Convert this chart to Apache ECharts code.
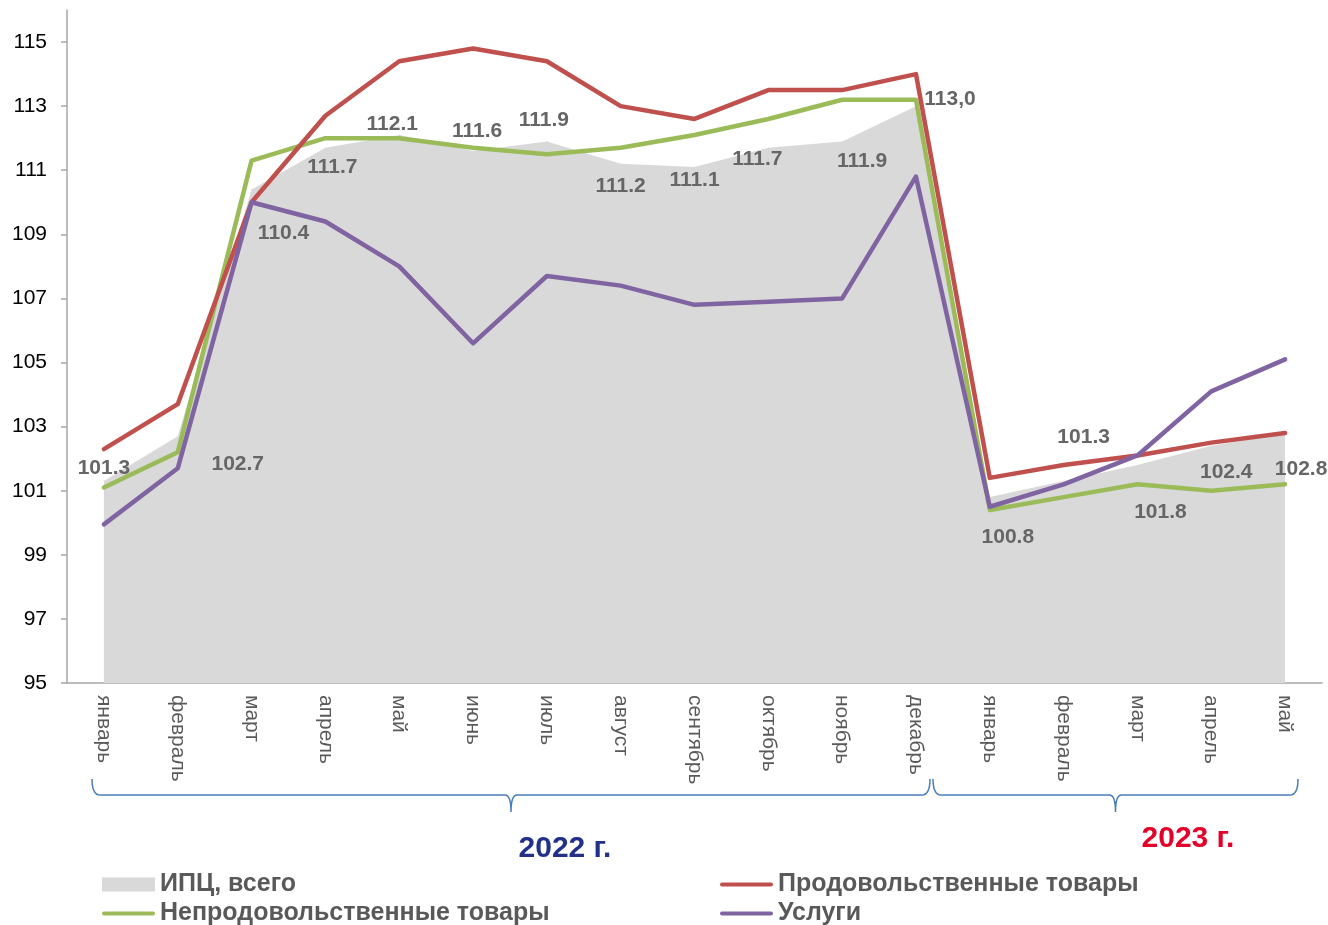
<!DOCTYPE html>
<html>
<head>
<meta charset="utf-8">
<script src="https://cdn.jsdelivr.net/npm/echarts@6/dist/echarts.min.js"></script>
<style>
  html, body { margin: 0; padding: 0; background: #fff; }
  #main { width: 1328px; height: 925px; }
</style>
</head>
<body>
<div id="main"></div>
<script>
// месяцы
var months = ['январь', 'февраль', 'март', 'апрель', 'май', 'июнь', 'июль', 'август',
  'сентябрь', 'октябрь', 'ноябрь', 'декабрь', 'январь', 'февраль', 'март', 'апрель', 'май'];

// ИПЦ, всего
var cpiTotal = [101.3, 102.7, 110.4, 111.7, 112.1, 111.6, 111.9, 111.2, 111.1, 111.7, 111.9, 113.0,
  100.8, 101.3, 101.8, 102.4, 102.8];
var cpiLabels = ['101.3', '102.7', '110.4', '111.7', '112.1', '111.6', '111.9', '111.2', '111.1',
  '111.7', '111.9', '113,0', '100.8', '101.3', '101.8', '102.4', '102.8'];
// Продовольственные товары
var food = [102.3, 103.7, 110.0, 112.7, 114.4, 114.8, 114.4, 113.0, 112.6, 113.5, 113.5, 114.0,
  101.4, 101.8, 102.1, 102.5, 102.8];
// Непродовольственные товары
var nonFood = [101.1, 102.2, 111.3, 112.0, 112.0, 111.7, 111.5, 111.7, 112.1, 112.6, 113.2, 113.2,
  100.4, 100.8, 101.2, 101.0, 101.2];
// Услуги
var services = [99.95, 101.7, 110.0, 109.4, 108.0, 105.6, 107.7, 107.4, 106.8, 106.9, 107.0, 110.8,
  100.5, 101.2, 102.1, 104.1, 105.1];

var yTicks = [95, 97, 99, 101, 103, 105, 107, 109, 111, 113, 115];

var chart = echarts.init(document.getElementById('main'));

// сдвиг подписей относительно точки
var nudge = [[0, -13], [60, 28], [32, 44], [7, 19], [-7, -11], [4, -20], [-3, -21], [0, 22], [0, 13],
  [-11, 11], [20, 20], [34, -7], [18, 40], [20, -44], [23, 47], [15, 26], [16, 36]];

var font = "'Liberation Sans', Arial, sans-serif";
// иконка легенды: толстая линия со скруглёнными концами
var lineIcon = 'path://M2,0 L51,0 A2,2 0 0 1 51,4 L2,4 A2,2 0 0 1 2,0 Z';

// фигурная скобка как ломаная
function brace(x1, x2, top, line, tip) {
  var mid = (x1 + x2) / 2, r = 8, pts = [];
  function quad(p0, c, p1) {
    for (var t = 0; t <= 1.0001; t += 0.125) {
      var a = (1 - t) * (1 - t), b = 2 * (1 - t) * t, d = t * t;
      pts.push([a * p0[0] + b * c[0] + d * p1[0], a * p0[1] + b * c[1] + d * p1[1]]);
    }
  }
  quad([x1, top], [x1, line], [x1 + r, line]);
  quad([mid - 6, line], [mid, line], [mid, tip]);
  quad([mid, tip], [mid, line], [mid + 6, line]);
  quad([x2 - r, line], [x2, line], [x2, top]);
  return pts;
}

var legendText = { fontFamily: font, fontSize: 25, fontWeight: 'bold', color: '#595959' };

var option = {
  animation: false,
  grid: { left: 67, right: 6, top: 10, bottom: 242 },
  legend: [
    {
      orient: 'vertical', left: 102, top: 872, height: 60, padding: 0,
      itemWidth: 53, itemHeight: 14, itemGap: 4,
      textStyle: legendText,
      data: [{ name: 'ИПЦ, всего', icon: 'rect' }, { name: 'Непродовольственные товары', icon: lineIcon }]
    },
    {
      orient: 'vertical', left: 720, top: 872, height: 60, padding: 0,
      itemWidth: 53, itemHeight: 14, itemGap: 4,
      textStyle: legendText,
      data: [{ name: 'Продовольственные товары', icon: lineIcon }, { name: 'Услуги', icon: lineIcon }]
    }
  ],
  xAxis: {
    type: 'category',
    data: months,
    boundaryGap: true,
    axisLine: { lineStyle: { color: '#a6a6a6', width: 1.5 } },
    axisTick: { length: 6, lineStyle: { color: '#a6a6a6', width: 1.5 } },
    axisLabel: { interval: 0, rotate: -90, margin: 12, fontFamily: font, fontSize: 21, color: '#595959' }
  },
  yAxis: {
    type: 'value',
    min: 95,
    max: 116,
    splitLine: { show: false },
    axisLine: { show: true, lineStyle: { color: '#a6a6a6', width: 1.5 } },
    axisTick: { show: true, length: 6, customValues: yTicks, lineStyle: { color: '#a6a6a6', width: 1.5 } },
    axisLabel: { customValues: yTicks, margin: 20, fontFamily: font, fontSize: 21, color: '#000' }
  },
  series: [
    {
      name: 'ИПЦ, всего',
      type: 'line',
      data: cpiTotal.map(function (v, i) {
        return { value: v, label: { offset: nudge[i] } };
      }),
      symbol: 'circle',
      symbolSize: 1,
      showSymbol: true,
      itemStyle: { color: '#d9d9d9' },
      lineStyle: { width: 0 },
      areaStyle: { color: '#d9d9d9', opacity: 1, origin: 'start' },
      label: {
        show: true,
        position: 'inside',
        formatter: function (p) { return cpiLabels[p.dataIndex]; },
        fontFamily: font, fontSize: 21, fontWeight: 'bold', color: '#666'
      },
      z: 1
    },
    {
      name: 'Непродовольственные товары',
      type: 'line',
      data: nonFood,
      symbol: 'none',
      itemStyle: { color: '#9bbb59' },
      lineStyle: { width: 4.5, color: '#9bbb59', cap: 'round', join: 'round' },
      z: 2
    },
    {
      name: 'Продовольственные товары',
      type: 'line',
      data: food,
      symbol: 'none',
      itemStyle: { color: '#c0504d' },
      lineStyle: { width: 4.5, color: '#c0504d', cap: 'round', join: 'round' },
      z: 3
    },
    {
      name: 'Услуги',
      type: 'line',
      data: services,
      symbol: 'none',
      itemStyle: { color: '#8064a2' },
      lineStyle: { width: 4.5, color: '#8064a2', cap: 'round', join: 'round' },
      z: 4
    }
  ],
  graphic: [
    {
      type: 'polyline',
      shape: { points: brace(92, 930, 779, 795, 812) },
      style: { fill: null, stroke: '#4a7ebb', lineWidth: 1.5 }
    },
    {
      type: 'polyline',
      shape: { points: brace(933, 1298, 779, 795, 812) },
      style: { fill: null, stroke: '#4a7ebb', lineWidth: 1.5 }
    },
    {
      type: 'text', x: 565, y: 849,
      style: { text: '2022 г.', font: 'bold 30px ' + font, fill: '#23308a', align: 'center', verticalAlign: 'middle' }
    },
    {
      type: 'text', x: 1188, y: 839,
      style: { text: '2023 г.', font: 'bold 30px ' + font, fill: '#e3002a', align: 'center', verticalAlign: 'middle' }
    }
  ]
};

chart.setOption(option);
</script>
</body>
</html>
